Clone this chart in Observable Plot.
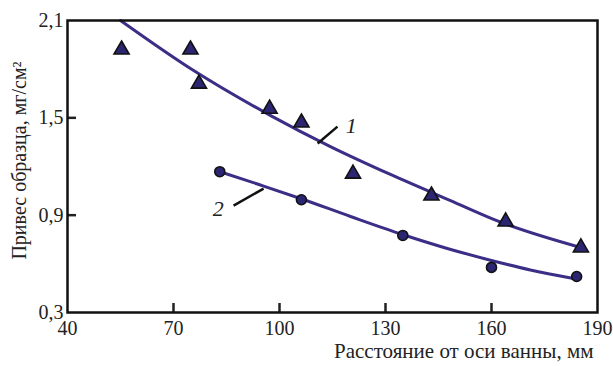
<!DOCTYPE html>
<html>
<head>
<meta charset="utf-8">
<script src="https://cdn.jsdelivr.net/npm/d3@7"></script>
<script src="https://cdn.jsdelivr.net/npm/@observablehq/plot@0.6"></script>
<style>
  html, body { margin: 0; padding: 0; background: #fff; }
  svg { display: block; }
  svg, svg text { font-family: "Liberation Serif", "Times New Roman", serif !important; }
</style>
</head>
<body>
<div id="chart"></div>
<script>
// Series 1 (triangles) – measured points
const s1X = [55.3, 74.8, 77.2, 97.2, 106.2, 120.8, 143.0, 164.0, 185.3];
const s1Y = [1.92, 1.92, 1.71, 1.555, 1.47, 1.155, 1.02, 0.86, 0.70];
// Series 2 (circles) – measured points
const s2X = [83.1, 106.2, 134.9, 160.0, 184.1];
const s2Y = [1.168, 0.995, 0.775, 0.578, 0.522];
// Fitted curve 1
const c1X = [55.0, 74.8, 97.5, 114.4, 131.4, 148.4, 162.6, 185.2];
const c1Y = [2.10, 1.804, 1.514, 1.323, 1.151, 0.990, 0.857, 0.701];
// Fitted curve 2
const c2X = [83.0, 94.6, 105.9, 120.1, 134.8, 147.0, 158.9, 171.0, 183.2];
const c2Y = [1.169, 1.086, 1.003, 0.892, 0.781, 0.698, 0.627, 0.562, 0.510];
// Tick values
const xTicks = [40, 70, 100, 130, 160, 190];
const yTicks = [0.3, 0.9, 1.5, 2.1];
// Curve labels with leader lines
const labelText = ["1", "2"];
const labelX = [120.3, 82.7];
const labelY = [1.45, 0.94];
const leadX1 = [110.8, 87.0];
const leadY1 = [1.342, 0.959];
const leadX2 = [116.4, 95.5];
const leadY2 = [1.446, 1.064];

const pts1 = s1X.map((x, i) => ({x, y: s1Y[i]}));
const pts2 = s2X.map((x, i) => ({x, y: s2Y[i]}));
const cur1 = c1X.map((x, i) => ({x, y: c1Y[i]}));
const cur2 = c2X.map((x, i) => ({x, y: c2Y[i]}));
const labels = labelText.map((t, i) => ({t, x: labelX[i], y: labelY[i], x1: leadX1[i], y1: leadY1[i], x2: leadX2[i], y2: leadY2[i]}));

const lineColor = "#3b2e86";
const markFill = "#2c2672";
const fmt = d => d.toFixed(1).replace(".", ",");
const font = '"Liberation Serif", "Times New Roman", serif';

const chart = Plot.plot({
  width: 613,
  height: 366,
  marginLeft: 67,
  marginRight: 16,
  marginTop: 20,
  marginBottom: 54,
  style: {fontFamily: font, fontSize: "20px", color: "#222", background: "#fff"},
  x: {domain: [40, 190]},
  y: {domain: [0.3, 2.1]},
  marks: [
    Plot.axisX({ticks: xTicks, tickSize: 0, tickPadding: 8, tickFormat: d => String(d), fontSize: 20, label: null}),
    Plot.axisX({ticks: xTicks.slice(1, -1), tickSize: -9, strokeWidth: 2.5, text: null, label: null}),
    Plot.axisY({ticks: yTicks, tickSize: 0, tickPadding: 4, tickFormat: fmt, fontSize: 20, label: null}),
    Plot.axisY({ticks: yTicks.slice(1, -1), tickSize: -9, strokeWidth: 2.5, text: null, label: null}),
    Plot.line(cur1, {x: "x", y: "y", curve: "monotone-x", stroke: lineColor, strokeWidth: 3}),
    Plot.line(cur2, {x: "x", y: "y", curve: "monotone-x", stroke: lineColor, strokeWidth: 3}),
    Plot.link(labels, {x1: "x1", y1: "y1", x2: "x2", y2: "y2", stroke: "#111", strokeWidth: 2.5}),
    Plot.text(labels, {x: "x", y: "y", text: "t", fontStyle: "italic", fontSize: 22, fill: "#222"}),
    Plot.dot(pts1, {x: "x", y: "y", symbol: "triangle", r: 5.6, fill: markFill, stroke: "#111", strokeWidth: 1.6}),
    Plot.dot(pts2, {x: "x", y: "y", symbol: "circle", r: 5, fill: markFill, stroke: "#111", strokeWidth: 1.6}),
    Plot.frame({stroke: "#111", strokeWidth: 2.5}),
    Plot.text(["Расстояние от оси ванны, мм"], {frameAnchor: "bottom-right", dx: -4, dy: 45, lineAnchor: "bottom", textAnchor: "end", fontSize: 21, fill: "#222"}),
    Plot.text(["Привес образца, мг/см²"], {frameAnchor: "left", textAnchor: "middle", lineAnchor: "middle", dx: -48, dy: -6, rotate: -90, fontSize: 20, fill: "#222"})
  ]
});
document.getElementById("chart").appendChild(chart);
</script>
</body>
</html>
